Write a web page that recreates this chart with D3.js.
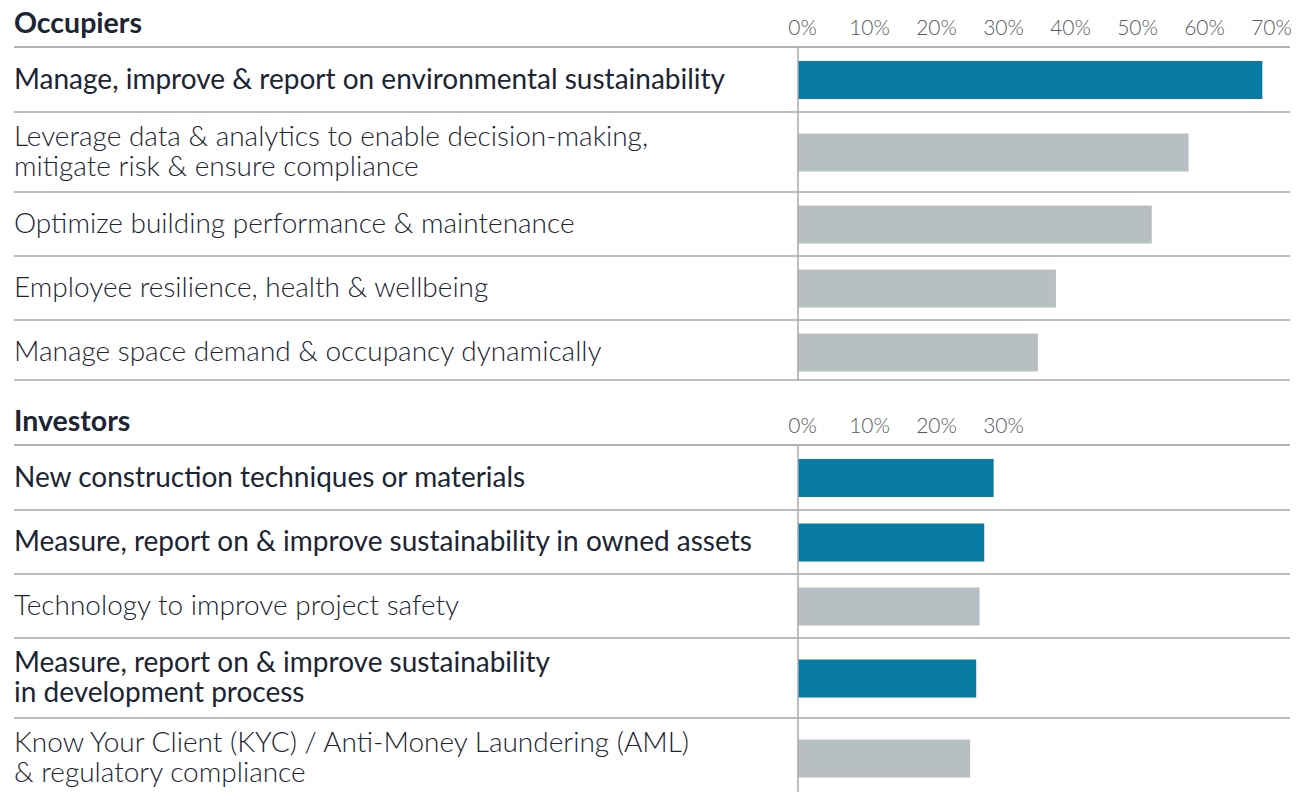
<!DOCTYPE html>
<html>
<head>
<meta charset="utf-8">
<script src="https://cdn.jsdelivr.net/npm/d3@7"></script>
<style>
  html, body { margin: 0; padding: 0; background: #fff; }
  svg { display: block; }
</style>
</head>
<body>
<svg id="chart" width="1302" height="792"></svg>
<script>
// ---------- data ----------
const occupierCategories = [
  ["Manage, improve & report on environmental sustainability"],
  ["Leverage data & analytics to enable decision-making,", "mitigate risk & ensure compliance"],
  ["Optimize building performance & maintenance"],
  ["Employee resilience, health & wellbeing"],
  ["Manage space demand & occupancy dynamically"]
];
const occupierValues = [69.3, 58.3, 52.8, 38.5, 35.8];
const occupierHighlight = [true, false, false, false, false];
const occupierTicks = [0, 10, 20, 30, 40, 50, 60, 70];

const investorCategories = [
  ["New construction techniques or materials"],
  ["Measure, report on & improve sustainability in owned assets"],
  ["Technology to improve project safety"],
  ["Measure, report on & improve sustainability", "in development process"],
  ["Know Your Client (KYC) / Anti-Money Laundering (AML)", "& regulatory compliance"]
];
const investorValues = [29.2, 27.8, 27.1, 26.6, 25.7];
const investorHighlight = [true, true, false, true, false];
const investorTicks = [0, 10, 20, 30];

const panelTitles = ["Occupiers", "Investors"];

// ---------- style ----------
const FONT = "Lato, 'Source Sans Pro', 'Open Sans', sans-serif";
const BLUE = "#087ba3";
const GREY_BAR = "#b7bfc2";
const TEXT = "#1c2533";

const svg = d3.select("#chart");
const x = d3.scaleLinear().domain([0, 70]).range([798, 1267]);

function drawPanel(top, title, cats, vals, hl, ticks, bottomLimit) {
  const g = svg.append("g");
  // title
  g.append("text")
    .attr("x", 14).attr("y", top - 14)
    .attr("font-family", FONT).attr("font-weight", 700)
    .attr("font-size", 28.5).attr("fill", TEXT)
    .text(title);
  // tick labels via axis
  const axis = d3.axisTop(x).tickValues(ticks).tickFormat(d => d + "%").tickSize(0).tickPadding(0);
  const ag = g.append("g").attr("transform", `translate(4,${top - 12})`).call(axis);
  ag.select(".domain").remove();
  ag.selectAll("text")
    .attr("font-family", FONT).attr("font-weight", 300)
    .attr("font-size", 21).attr("fill", "#555b60");
  // header line
  g.append("line").attr("x1", 14).attr("x2", 1290).attr("y1", top).attr("y2", top)
    .attr("stroke", "#9a9a9a").attr("stroke-width", 1.5);

  // rows
  let y = top;
  const rows = cats.map((c, i) => {
    const h = i === 0 ? 65 : (c.length > 1 ? 80 : 64);
    const r = { y0: y, y1: y + h, lines: c, v: vals[i], hl: hl[i] };
    y += h;
    return r;
  });

  rows.forEach((r, i) => {
    const cy = (r.y0 + r.y1) / 2;
    const bh = 38;
    g.append("rect")
      .attr("x", x(0)).attr("y", cy - bh / 2 + 0.5)
      .attr("width", x(r.v) - x(0)).attr("height", bh)
      .attr("fill", r.hl ? BLUE : GREY_BAR);
    const t = g.append("text")
      .attr("font-family", FONT)
      .attr("font-weight", r.hl ? 400 : 300)
      .attr("font-size", 28).attr("fill", TEXT);
    const n = r.lines.length;
    r.lines.forEach((ln, j) => {
      t.append("tspan").attr("x", 14)
        .attr("y", cy + 9 + (j - (n - 1) / 2) * 29.5)
        .text(ln);
    });
    const last = i === rows.length - 1;
    if (r.y1 <= bottomLimit) {
      const ly = last ? Math.min(r.y1, 380) : r.y1;
      g.append("line").attr("x1", 14).attr("x2", 1290)
        .attr("y1", ly).attr("y2", ly)
        .attr("stroke", "#a8a8a8").attr("stroke-width", 1.5);
    }
  });
  // zero axis line
  const lastRow = rows[rows.length - 1];
  const yEnd = lastRow.y1 <= bottomLimit ? Math.min(lastRow.y1, 380) : bottomLimit;
  g.append("line").attr("x1", x(0)).attr("x2", x(0))
    .attr("y1", top).attr("y2", yEnd)
    .attr("stroke", "#a8a8a8").attr("stroke-width", 1.5);
}

drawPanel(47, panelTitles[0], occupierCategories, occupierValues, occupierHighlight, occupierTicks, 792);
drawPanel(445, panelTitles[1], investorCategories, investorValues, investorHighlight, investorTicks, 792);
</script>
</body>
</html>
